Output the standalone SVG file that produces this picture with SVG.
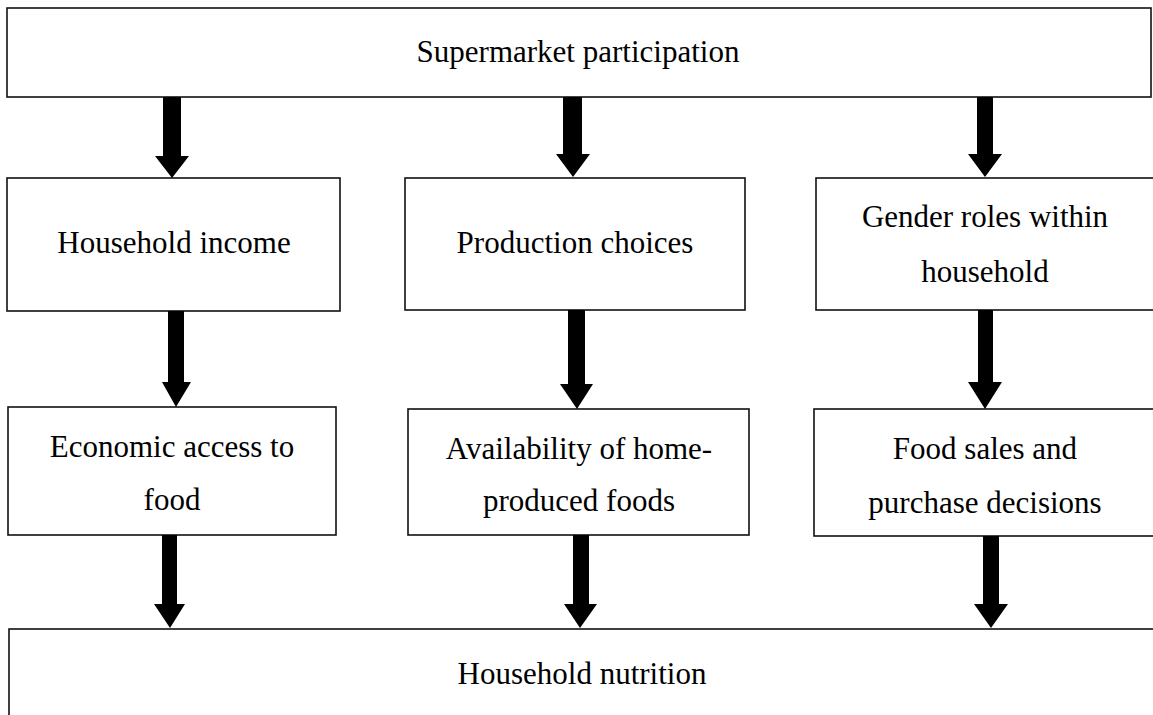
<svg xmlns="http://www.w3.org/2000/svg" width="1153" height="715" viewBox="0 0 1153 715">
<style>
.box{fill:#fff;stroke:#111;stroke-width:1.6}
.t{font-family:'Liberation Serif',serif;font-size:31px;fill:#000;text-anchor:middle}
.arr{fill:#000;stroke:none}
</style>
<rect width="1153" height="715" fill="#fff"/>
<g id="supermarket">
<rect class="box" x="7" y="8" width="1144" height="89"/>
<text class="t" x="578" y="62">Supermarket participation</text>
</g>
<g id="income">
<rect class="box" x="7" y="178" width="333" height="133"/>
<text class="t" x="174" y="253">Household income</text>
</g>
<g id="production">
<rect class="box" x="405" y="178" width="340" height="132"/>
<text class="t" x="575" y="253">Production choices</text>
</g>
<g id="gender">
<rect class="box" x="816" y="178" width="340" height="132"/>
<text class="t" x="985" y="227">Gender roles within</text>
<text class="t" x="985" y="282">household</text>
</g>
<g id="economic">
<rect class="box" x="8" y="407" width="328" height="128"/>
<text class="t" x="172" y="457">Economic access to</text>
<text class="t" x="172" y="510">food</text>
</g>
<g id="availability">
<rect class="box" x="408" y="409" width="341" height="126"/>
<text class="t" x="579" y="459">Availability of home-</text>
<text class="t" x="579" y="511">produced foods</text>
</g>
<g id="foodsales">
<rect class="box" x="814" y="409" width="342" height="127"/>
<text class="t" x="985" y="459">Food sales and</text>
<text class="t" x="985" y="513">purchase decisions</text>
</g>
<g id="nutrition">
<rect class="box" x="9" y="629" width="1150" height="100"/>
<text class="t" x="582" y="684">Household nutrition</text>
</g>
<g id="connectors">
<polygon class="arr" points="163,97 181,97 181,156 189,156 172,178 155,156 163,156"/>
<polygon class="arr" points="563,97 582,97 582,154 590,154 573,177 556,154 563,154"/>
<polygon class="arr" points="977,97 993,97 993,154 1002,154 985,177 968,154 977,154"/>
<polygon class="arr" points="168,311 184,311 184,382 191,382 176,407 162,382 168,382"/>
<polygon class="arr" points="568,310 585,310 585,384 593,384 577,409 560,384 568,384"/>
<polygon class="arr" points="978,310 993,310 993,382 1002,382 985,409 968,382 978,382"/>
<polygon class="arr" points="162,535 177,535 177,604 185,604 170,628 154,604 162,604"/>
<polygon class="arr" points="573,535 589,535 589,604 597,604 580,628 564,604 573,604"/>
<polygon class="arr" points="983,536 999,536 999,604 1008,604 991,628 974,604 983,604"/>
</g>
</svg>
